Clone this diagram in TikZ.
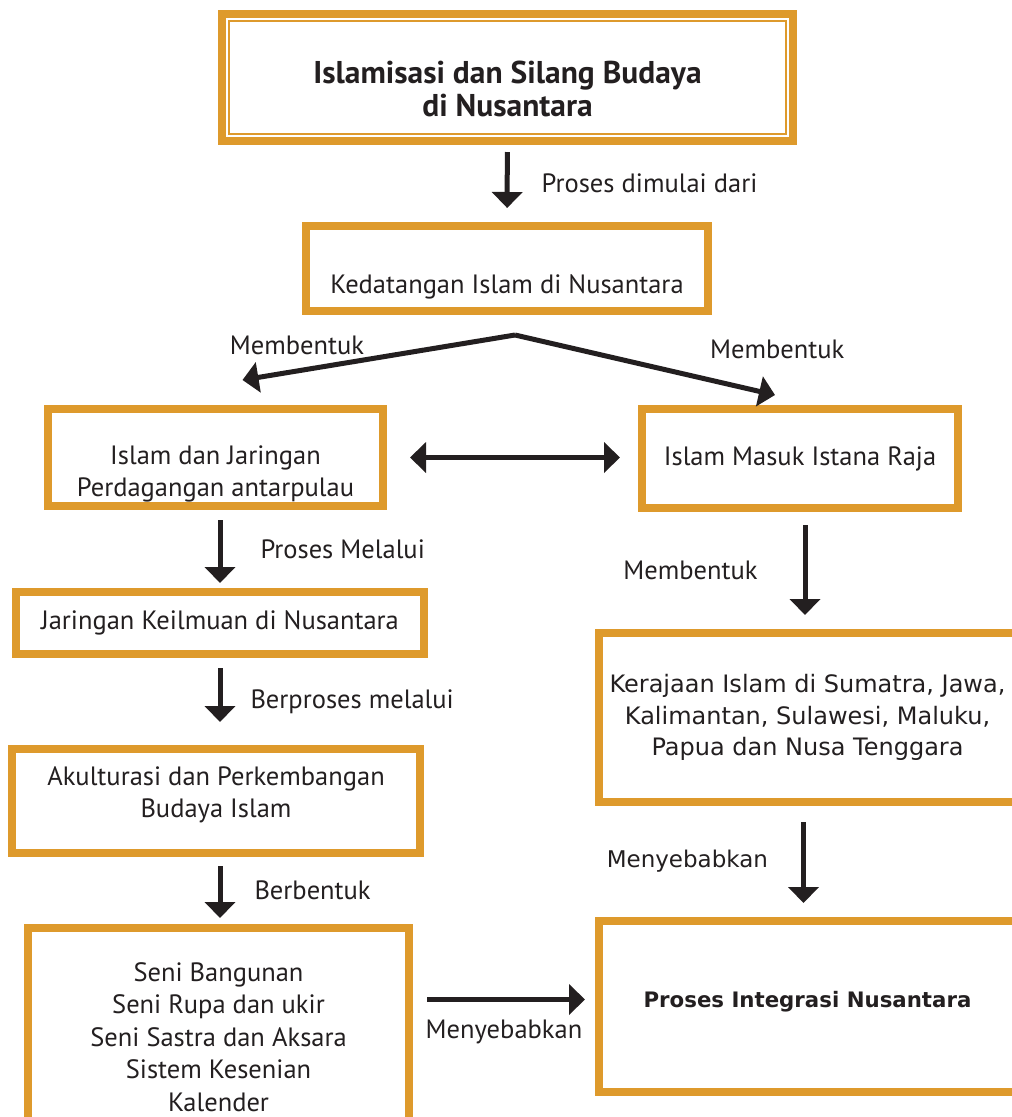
\documentclass[tikz,border=0pt]{standalone}
\usepackage{fontspec}
\setmainfont{PT Sans}
\newfontfamily\tahoma{DejaVu Sans}
\usetikzlibrary{arrows.meta,positioning}
\definecolor{oranye}{HTML}{DE9A2C}
\definecolor{tinta}{HTML}{231F20}
\begin{document}
\begin{tikzpicture}[x=1pt, y=-1pt, text=tinta, font=\fontsize{26.5}{32.5}\selectfont,
    main/.style = {draw=oranye, line width=8pt, inner sep=0pt, outer sep=0pt, align=center},
    kepala/.tip = {Triangle[width=30pt,length=16pt]},
    arr/.style = {-kepala, draw=tinta, line width=5pt},
    lbl/.style = {inner sep=0pt},
    lebar/.style = {font=\tahoma\fontsize{24}{31.5}\selectfont}]
  \useasboundingbox (0,0) rectangle (1012,1117);
  \clip (0,0) rectangle (1012,1117);
  % kotak-kotak
  \node[main, minimum width=571pt, minimum height=127pt, font=\fontsize{31.5}{33}\selectfont\bfseries] (1) at (507.5,77.5) {\rule{0pt}{45pt}Islamisasi dan Silang Budaya\\di Nusantara};
  \draw[oranye, line width=2pt] ([shift={(7,7)}]1.north west) rectangle ([shift={(-7,-7)}]1.south east);
  \node[main, minimum width=402pt, minimum height=85pt, text height=56pt, text depth=6pt] (2) at (507,268.5) {Kedatangan Islam di Nusantara};
  \node[main, minimum width=335pt, minimum height=97pt] (3) at (215.5,457.5) {\rule{0pt}{52pt}Islam dan Jaringan\\Perdagangan antarpulau};
  \node[main, minimum width=316pt, minimum height=99pt] (4) at (800,458.5) {Islam Masuk Istana Raja};
  \node[main, minimum width=408pt, minimum height=62pt] (5) at (220,623) {Jaringan Keilmuan di Nusantara};
  \node[main, minimum width=408pt, minimum height=104pt] (6) at (216,801) {Akulturasi dan Perkembangan\\Budaya Islam\rule[-18pt]{0pt}{18pt}};
  \node[main, minimum width=381pt, minimum height=218pt] (7) at (218.5,1037) {Seni Bangunan\\Seni Rupa dan ukir\\Seni Sastra dan Aksara\\Sistem Kesenian\\Kalender};
  \node[main, lebar, minimum width=417pt, minimum height=169pt] (8) at (807.5,717.5) {Kerajaan Islam di Sumatra, Jawa,\\Kalimantan, Sulawesi, Maluku,\\Papua dan Nusa Tenggara};
  \node[main, minimum width=417pt, minimum height=171pt, text depth=15pt, font=\tahoma\fontsize{21.3}{28}\selectfont\bfseries] (9) at (807.5,1006.5) {Proses Integrasi Nusantara};
  % panah
  \draw[arr, shorten <=11pt, shorten >=18pt] (1) -- node[lbl, right=32pt] {Proses dimulai dari} (2);
  \coordinate (c) at ([shift={(8,24)}]2.south);
  \draw[arr] (c) -- node[lbl, pos=0.8, above=14pt] {Membentuk} ([shift={(27,-29)}]3.north);
  \draw[arr] (c) -- node[lbl, pos=0.97, above=32pt, xshift=10pt] {Membentuk} ([shift={(-25,-14)}]4.north);
  \draw[arr, kepala-kepala, shorten <=27pt, shorten >=22pt] (3.east) -- (3.east -| 4.west);
  \draw[arr, shorten <=14pt, shorten >=9pt] (3.south -| 5) -- node[lbl, right=38pt] {Proses Melalui} (5);
  \draw[arr, shorten <=14pt, shorten >=27pt] (5) -- node[lbl, right=28pt] {Berproses melalui} (5 |- 6.north);
  \draw[arr, shorten <=13pt, shorten >=10pt] (6.south -| 5) -- node[lbl, right=32pt] {Berbentuk} (7.north -| 5);
  \draw[arr, shorten <=18pt, shorten >=14pt] ([yshift=7pt]9.west -| 7.east) -- node[lbl, below=18pt] {Menyebabkan} ([yshift=7pt]9.west);
  \draw[arr, shorten <=17pt, shorten >=18pt] ([xshift=5pt]4.south) -- node[lbl, left=45pt] {Membentuk} ([xshift=5pt]4.south |- 8.north);
  \draw[arr, shorten <=20pt, shorten >=18pt] ([xshift=-4pt]8.south) -- node[lbl, left=33pt, font=\tahoma\fontsize{23}{26}\selectfont] {Menyebabkan} ([xshift=-4pt]8.south |- 9.north);
\end{tikzpicture}
\end{document}
